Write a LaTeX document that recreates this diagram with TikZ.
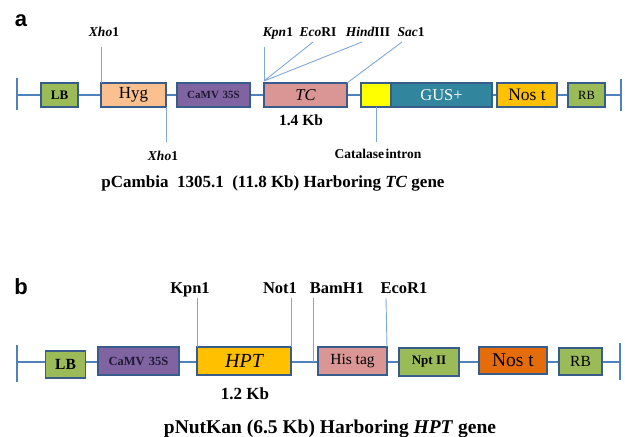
\documentclass[tikz,border=0pt]{standalone}
\usepackage{fontspec}
\setmainfont{Liberation Serif}
\newfontfamily\panelfont{Liberation Sans}
\definecolor{bbblue}{HTML}{4F81BD}
\definecolor{boxblue}{HTML}{385D8A}
\definecolor{siteblue}{HTML}{80A7DA}
\definecolor{cgreen}{HTML}{9BBB59}
\definecolor{chyg}{HTML}{FAC090}
\definecolor{cpurple}{HTML}{8064A2}
\definecolor{cpink}{HTML}{D99694}
\definecolor{cyellow}{HTML}{FFFF00}
\definecolor{cteal}{HTML}{31859C}
\definecolor{corange}{HTML}{FFC000}
\definecolor{cdarkorange}{HTML}{E46C0A}
\definecolor{ctext}{HTML}{1F1A33}
\newcommand{\fs}[1]{\fontsize{#1}{#1}\selectfont}
\begin{document}
\begin{tikzpicture}[x=1pt,y=-1pt,
  box/.style={draw=boxblue,line width=1.8pt,inner sep=0pt,outer sep=0pt,anchor=center},
  bbone/.style={draw=bbblue,line width=2.8pt},
  site/.style={draw=siteblue,line width=0.9pt},
  lbl/.style={inner sep=0pt,anchor=base},
  panel/.style={inner sep=0pt,font=\panelfont\bfseries\fs{22}}]
\useasboundingbox (0,0) rectangle (625,437);

% ---------- panel a ----------
\node[panel] (pa) at (21,21) {a};
\coordinate (aL) at (17,95);
\coordinate (aR) at (621,95);
\coordinate (aLt) at (17,78);
\coordinate (aLb) at (17,110);
\coordinate (aRt) at (621,79);
\coordinate (aRb) at (621,111);
\draw[bbone] (aL) -- (aR);
\draw[bbone] (aLt) -- (aLb);
\draw[bbone] (aRt) -- (aRb);

\node[box,fill=cgreen,minimum width=37,minimum height=24] (aLB) at (59.5,95) {\bfseries\fs{13}LB};
\node[box,fill=chyg,minimum width=65,minimum height=24] (aHyg) at (133.5,95) {\fs{17}Hyg};
\node[box,fill=cpurple,minimum width=73,minimum height=24] (aCaMV) at (213.5,95) {\color{ctext}\bfseries\fs{11}CaMV\,\,35S};
\node[box,fill=cpink,minimum width=83,minimum height=24] (aTC) at (305.5,95) {\itshape\fs{16.5}TC};
\node[box,fill=cyellow,minimum width=30,minimum height=24] (aCat) at (376,95) {};
\node[box,fill=cteal,minimum width=101,minimum height=24] (aGUS) at (441.5,95) {\color{white}\fs{16.5}GUS+};
\node[box,fill=corange,minimum width=60,minimum height=24] (aNos) at (527,95) {\fs{17.5}Nos t};
\node[box,fill=cgreen,minimum width=37,minimum height=24] (aRB) at (586.5,95) {\fs{12.5}RB};

% site labels a
\node[lbl,font=\bfseries\fs{13.5}] (aXhoT) at (104,36) {\textit{Xho}1};
\node[lbl,font=\bfseries\fs{13.5}] (aXhoB) at (163,160) {\textit{Xho}1};
\node[lbl,font=\bfseries\fs{13.5}] (aKpn) at (278,36) {\textit{Kpn}1};
\node[lbl,font=\bfseries\fs{13.5}] (aEco) at (318,36) {\textit{Eco}RI};
\node[lbl,font=\bfseries\fs{13.5}] (aHind) at (368,36) {\textit{Hind}III};
\node[lbl,font=\bfseries\fs{13.5}] (aSac) at (411,36) {\textit{Sac}1};
\node[lbl,font=\bfseries\fs{13.5}] (aCatL) at (378,158) {{\spaceskip=1.5pt Catalase intron}};
\node[lbl,font=\bfseries\fs{15.5}] (aSize) at (301,125) {1.4 Kb};
\node[lbl,font=\bfseries\fs{17}] (aTitle) at (273,187) {pCambia\ \ 1305.1\ \ (11.8 Kb) Harboring \textit{TC} gene};

\coordinate (aXhoTe) at (101,47);
\coordinate (aXhoBe) at (166,142);
\coordinate (aKpne) at (264,47);
\coordinate (aEcoe) at (313,42);
\coordinate (aHinde) at (362,42);
\coordinate (aSace) at (402,42);
\coordinate (aCate) at (376,142);
\coordinate (aTCv) at (264,81);

\draw[site] (aHyg.north west) -- (aXhoTe);
\draw[site] (aHyg.south east) -- (aXhoBe);
\draw[site] (aTCv) -- (aKpne);
\draw[site] (aTCv) -- (aEcoe);
\draw[site] (aTCv) -- (aHinde);
\draw[site] (aTC.north east) -- (aSace);
\draw[site] (aCat.south) -- (aCate);

% ---------- panel b ----------
\node[panel] (pb) at (21,287) {b};
\coordinate (bL) at (17,362);
\coordinate (bR) at (620,362);
\coordinate (bLt) at (17,345);
\coordinate (bLb) at (17,382);
\coordinate (bRt) at (620,343);
\coordinate (bRb) at (620,380);
\draw[bbone] (bL) -- (bR);
\draw[bbone] (bLt) -- (bLb);
\draw[bbone] (bRt) -- (bRb);

\node[box,fill=cgreen,minimum width=40,minimum height=27] (bLB) at (65.5,364.5) {\bfseries\fs{15.5}LB};
\node[box,fill=cpurple,minimum width=81,minimum height=28] (bCaMV) at (138.5,361) {\color{ctext}\bfseries\fs{12.5}CaMV\,\,35S};
\node[box,fill=corange,minimum width=94,minimum height=28] (bHPT) at (244,361) {\itshape\fs{20}HPT};
\node[box,fill=cpink,minimum width=69,minimum height=28] (bHis) at (352.5,361) {\fs{15.5}His tag};
\node[box,fill=cgreen,minimum width=60,minimum height=28] (bNpt) at (429,362) {\bfseries\fs{13}Npt II};
\node[box,fill=cdarkorange,minimum width=68,minimum height=27] (bNos) at (513,360.5) {\fs{19.5}Nos t};
\node[box,fill=cgreen,minimum width=43,minimum height=27] (bRB) at (580.5,361.5) {\fs{15.5}RB};

\node[lbl,font=\bfseries\fs{16.5}] (bKpn) at (190,293) {Kpn1};
\node[lbl,font=\bfseries\fs{16.5}] (bNot) at (280,293) {Not1};
\node[lbl,font=\bfseries\fs{16.5}] (bBam) at (337,293) {BamH1};
\node[lbl,font=\bfseries\fs{16.5}] (bEco) at (404,293) {EcoR1};
\node[lbl,font=\bfseries\fs{17}] (bSize) at (245,399) {1.2 Kb};
\node[lbl,font=\bfseries\fs{19.5}] (bTitle) at (330,433) {pNutKan (6.5 Kb) Harboring \textit{HPT} gene};

\coordinate (bKpne) at (197,298);
\coordinate (bNote) at (291,298);
\coordinate (bBame) at (313,298);
\coordinate (bBamb) at (313,362);
\coordinate (bEcoe) at (386,298);

\draw[site] (bHPT.north west) -- (bKpne);
\draw[site] (bHPT.north east) -- (bNote);
\draw[site] (bBamb) -- (bBame);
\draw[site] (bHis.north east) -- (bEcoe);
\end{tikzpicture}
\end{document}
